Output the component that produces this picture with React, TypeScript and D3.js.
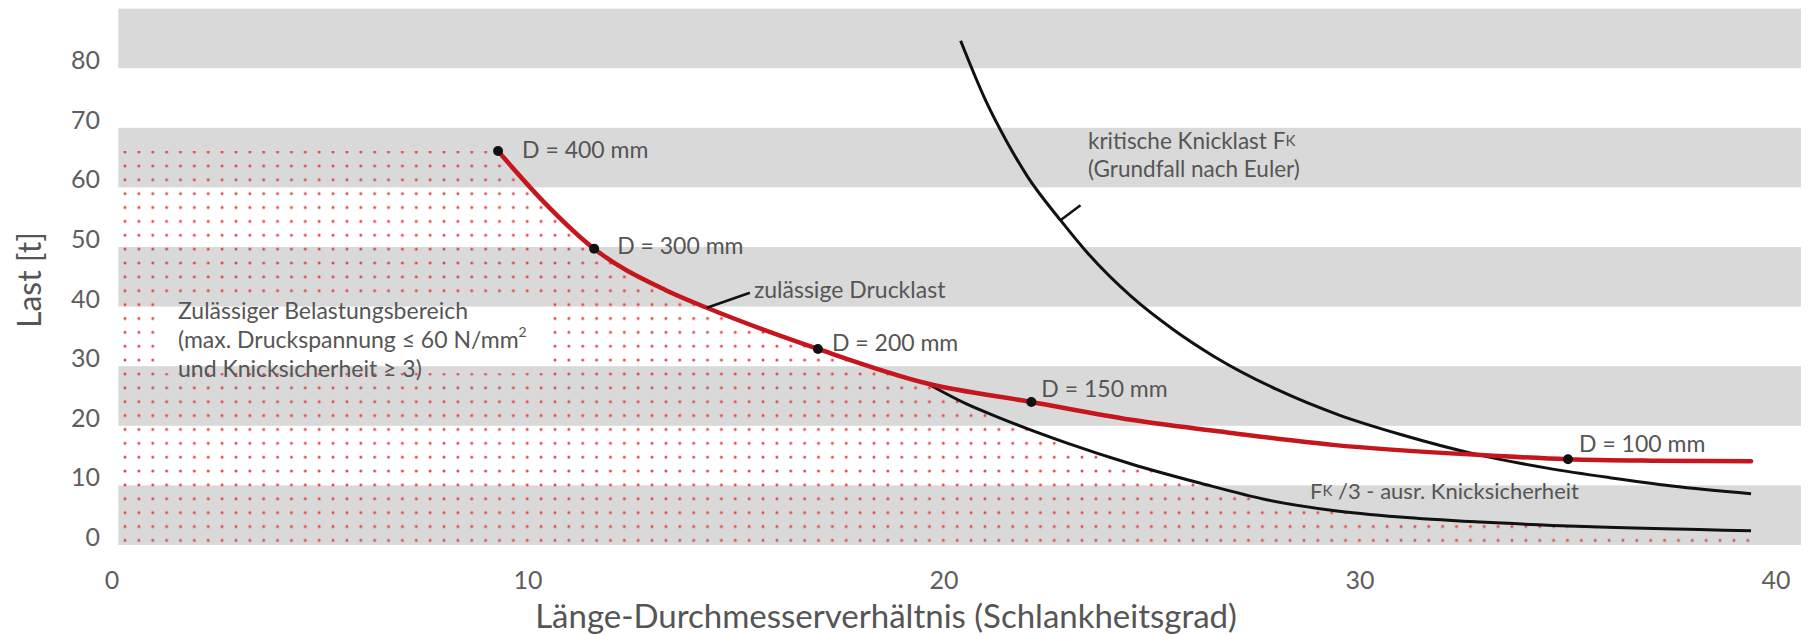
import * as d3 from 'd3';

// x = Länge-Durchmesserverhältnis, y = Last [t]
const X_TICKS = [0, 10, 20, 30, 40];
const Y_TICKS = [0, 10, 20, 30, 40, 50, 60, 70, 80];
const BANDS: [number, number][] = [[0, 10], [20, 30], [40, 50], [60, 70], [80, 90]];

// zulässige Drucklast (red)
const RED: [number, number][] = [
  [9.28, 66.1], [10.36, 57.7], [11.59, 49.7], [13.3, 42.8], [14.3, 39.8],
  [16.97, 32.9], [19.6, 27.1], [22.1, 24.0], [24.5, 21.0], [26.9, 18.8],
  [29.35, 16.8], [32.9, 15.1], [35.0, 14.4], [37.0, 14.15], [39.4, 14.05],
];

// kritische Knicklast Fk (Euler)
const EULER: [number, number][] = [
  [20.4, 84.6], [21.0, 74.6], [21.5, 67.8], [22.0, 61.9], [22.8, 54.5],
  [23.5, 48.6], [24.5, 41.7], [25.5, 36.2], [26.5, 31.6], [28.0, 26.1],
  [29.5, 21.8], [31.0, 18.5], [32.8, 15.2], [34.5, 12.9], [36.0, 11.3],
  [37.5, 9.9], [39.4, 8.6],
];

// Fk / 3
const EULER_3: [number, number][] = [
  [19.6, 27.1], [20.5, 23.8], [21.35, 21.3], [22.96, 17.1], [24.5, 13.6],
  [26.15, 10.4], [27.75, 7.6], [29.35, 5.8], [30.96, 4.7], [32.9, 3.85],
  [35.4, 3.1], [39.4, 2.4],
];

const D_POINTS = [
  { label: 'D = 400 mm', x: 9.28, y: 66.1 },
  { label: 'D = 300 mm', x: 11.59, y: 49.7 },
  { label: 'D = 200 mm', x: 16.97, y: 32.9 },
  { label: 'D = 150 mm', x: 22.1, y: 24.0 },
  { label: 'D = 100 mm', x: 35.0, y: 14.4 },
];
const D_LABEL_OFFSET: [number, number][] = [[24, -2], [23, -4], [14, -7], [10, -14], [11, -16]];

const FONT = 'Lato, "Open Sans", sans-serif';
const INK = '#555';
const RED_COLOR = '#c4161c';

export default function App() {
  const W = 1816;
  const H = 635;

  const x = d3.scaleLinear().domain([0, 40]).range([112, 1776]);
  const y = d3.scaleLinear().domain([0, 90]).range([545, 8.6]);
  const bandX: [number, number] = [0.15, 40.6];

  const line = d3.line<[number, number]>()
    .x(d => x(d[0]))
    .y(d => y(d[1]))
    .curve(d3.curveMonotoneX);

  // permitted region: under red curve until it meets Fk/3, then under Fk/3
  const split = EULER_3[0]![0];
  const redPart = RED.filter(d => d[0] <= split);
  const lowPart = EULER_3;
  const last = lowPart[lowPart.length - 1]!;
  const regionPath =
    `M${x(bandX[0])},${y(0)} L${x(bandX[0])},${y(RED[0]![1])} ` +
    (line(redPart) ?? '').replace(/^M/, 'L') + ' ' +
    (line(lowPart) ?? '').replace(/^M/, 'L') +
    ` L${x(last[0])},${y(0)} Z`;

  const dotStep = 13.87;
  const fs = 23;

  return (
    <svg width={W} height={H} style={{ position: 'absolute', left: 0, top: 0 }} fontFamily={FONT}>
      <defs>
        <pattern id="dots" patternUnits="userSpaceOnUse" x={125 - dotStep / 2} y={152 - dotStep / 2} width={dotStep} height={dotStep}>
          <circle cx={dotStep / 2} cy={dotStep / 2} r={1.5} fill="#e2454a" />
        </pattern>
        <mask id="textHole">
          <rect x={0} y={0} width={W} height={H} fill="white" />
          <rect x={160} y={y(40) - 7} width={386} height={y(30) - y(40) + 14} fill="black" />
        </mask>
      </defs>

      {/* Gray bands */}
      {BANDS.map(([a, b]) => (
        <rect key={a} x={x(bandX[0])} width={x(bandX[1]) - x(bandX[0])} y={y(b)} height={y(a) - y(b)} fill="#d9d9d9" />
      ))}

      {/* Dotted permitted region */}
      <path d={regionPath} fill="url(#dots)" mask="url(#textHole)" />

      {/* Curves */}
      <path d={line(EULER) ?? ''} fill="none" stroke="#111" strokeWidth={3} />
      <path d={line(EULER_3) ?? ''} fill="none" stroke="#111" strokeWidth={3} />
      <path d={line(RED) ?? ''} fill="none" stroke={RED_COLOR} strokeWidth={4.5} strokeLinecap="round" />

      {/* D markers */}
      {D_POINTS.map((d, i) => (
        <g key={d.label}>
          <circle cx={x(d.x)} cy={y(d.y)} r={5} fill="#111" />
          <text x={x(d.x) + D_LABEL_OFFSET[i]![0]} y={y(d.y) + D_LABEL_OFFSET[i]![1]} dominantBaseline="central" fontSize={fs} fill={INK}>
            {d.label}
          </text>
        </g>
      ))}

      {/* zulässige Drucklast label */}
      <line x1={x(14.3)} y1={y(39.8)} x2={x(14.3) + 43} y2={y(39.8) - 15} stroke="#111" strokeWidth={2.5} />
      <text x={x(14.3) + 47} y={y(39.8) - 19} dominantBaseline="central" fontSize={fs} fill={INK}>zulässige Drucklast</text>

      {/* kritische Knicklast label */}
      <line x1={x(22.8)} y1={y(54.5)} x2={x(22.8) + 20} y2={y(54.5) - 15} stroke="#111" strokeWidth={2.5} />
      <text x={1088} y={140} dominantBaseline="central" fontSize={22.5} fill={INK}>
        kritische Knicklast F<tspan fontSize={15}>K</tspan>
      </text>
      <text x={1088} y={168} dominantBaseline="central" fontSize={22.5} fill={INK}>(Grundfall nach Euler)</text>

      {/* Fk/3 label */}
      <text x={1310} y={y(9.2)} dominantBaseline="central" fontSize={22} fill={INK}>
        F<tspan fontSize={15}>K</tspan> /3 - ausr. Knicksicherheit
      </text>

      {/* Permitted area text */}
      <text x={178} fontSize={fs} fill={INK}>
        <tspan x={178} y={310} dominantBaseline="central">Zulässiger Belastungsbereich</tspan>
        <tspan x={178} y={339} dominantBaseline="central">(max. Druckspannung ≤ 60 N/mm<tspan fontSize={14} dy={-8}>2</tspan></tspan>
        <tspan x={178} y={368} dominantBaseline="central">und Knicksicherheit ≥ 3)</tspan>
      </text>

      {/* Y axis */}
      {Y_TICKS.map(t => (
        <text key={t} x={100} y={y(t) - 9} textAnchor="end" dominantBaseline="central" fontSize={25} fill="#5e5e5e">{t}</text>
      ))}
      <text transform="translate(28,280) rotate(-90)" textAnchor="middle" dominantBaseline="central" fontSize={32} fill={INK}>Last [t]</text>

      {/* X axis */}
      {X_TICKS.map(t => (
        <text key={t} x={x(t)} y={579} textAnchor="middle" dominantBaseline="central" fontSize={25} fill="#5e5e5e">{t}</text>
      ))}
      <text x={886} y={615} textAnchor="middle" dominantBaseline="central" fontSize={33} fill={INK}>
        Länge-Durchmesserverhältnis (Schlankheitsgrad)
      </text>
    </svg>
  );
}
